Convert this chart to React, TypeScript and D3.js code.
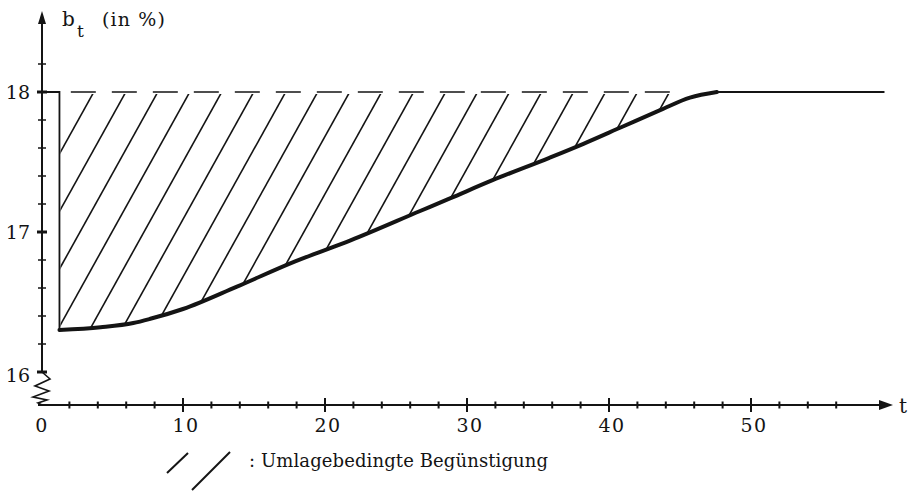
import React from "react";
import * as d3 from "d3";

// Data
const curveT = [1.3, 4.2, 6.5, 7.7, 10, 13.8, 17.9, 21.8, 26.7, 28.8, 31.8, 35.8, 38.2, 40.9, 43.6, 45.7, 47.6];
const curveB = [16.30, 16.32, 16.35, 16.38, 16.45, 16.61, 16.79, 16.94, 17.15, 17.24, 17.37, 17.53, 17.63, 17.75, 17.87, 17.96, 18.0];
const flatT = [47.6, 59.4];
const flatB = [18.0, 18.0];
const dropT = 1.3;
const refLevel = 18;
const dashStartT = 2.1;
const dashEndT = 44.4;
const xMajorTicks = [0, 10, 20, 30, 40, 50];
const xMinorTicks = [2, 4, 6, 8, 12, 14, 16, 18, 22, 24, 26, 28, 32, 34, 36, 38, 42, 44, 46, 48, 52, 54, 56];
const yMajorTicks = [16, 17, 18];
const yMinorTicks = [16.2, 16.4, 16.6, 16.8, 17.2, 17.4, 17.6, 17.8, 18.2];
const yAxisLabel = "b";
const yAxisSub = "t";
const yAxisUnit = "(in %)";
const xAxisLabel = "t";
const legendText = ": Umlagebedingte Begünstigung";

const W = 918;
const H = 491;
const FONT = "'DejaVu Serif', 'Liberation Serif', serif";
const INK = "#141414";

export default function App() {
  const x = d3.scaleLinear().domain([0, 60]).range([41, 893]);
  const y = d3.scaleLinear().domain([16, 18]).range([372, 92]);
  const axisY = 405;
  const axisX = 42;

  const pts: [number, number][] = curveT.map((t, i) => [t, curveB[i]]);
  const line = d3
    .line<[number, number]>()
    .x((d) => x(d[0]))
    .y((d) => y(d[1]))
    .curve(d3.curveMonotoneX);
  const curvePath = line(pts) || "";
  const flatPath = line(flatT.map((t, i) => [t, flatB[i]] as [number, number])) || "";

  const area = d3
    .area<[number, number]>()
    .x((d) => x(d[0]))
    .y0(() => y(refLevel) + 2)
    .y1((d) => y(d[1]))
    .curve(d3.curveMonotoneX);
  const clipPath = area(pts) || "";

  // hatching (decorative pattern)
  const slope = 1.8;
  const hatchStart = x(dashStartT) + 23;
  const hatchEnd = x(dashEndT) - 2;
  const nH = 18;
  const hatch = d3.range(nH + 1).map((i) => hatchStart + ((hatchEnd - hatchStart) * i) / nH);
  const yTop = y(refLevel);
  const yBot = y(16.2);

  // zigzag (axis break)
  const zig: [number, number][] = [
    [axisX, y(16)],
    [axisX + 8, y(16) + 7],
    [axisX - 7, y(16) + 14],
    [axisX + 7, y(16) + 19],
    [axisX - 9, y(16) + 25],
    [axisX + 5, y(16) + 28],
    [axisX - 4, y(16) + 31],
    [axisX, axisY],
  ];

  return (
    <svg
      width={W}
      height={H}
      viewBox={`0 0 ${W} ${H}`}
      style={{ position: "absolute", left: 0, top: 0, background: "#fff" }}
    >
      <defs>
        <clipPath id="hatchClip">
          <path d={clipPath} />
        </clipPath>
        <clipPath id="hatchX">
          <rect x={x(dropT) + 1} y={0} width={x(dashEndT) - x(dropT)} height={H} />
        </clipPath>
      </defs>

      {/* hatching */}
      <g clipPath="url(#hatchX)">
        <g clipPath="url(#hatchClip)">
          {hatch.map((xt, i) => (
            <line
              key={i}
              x1={xt}
              y1={yTop}
              x2={xt - (yBot - yTop) / slope}
              y2={yBot}
              stroke={INK}
              strokeWidth={1.6}
            />
          ))}
        </g>
      </g>

      {/* dashed reference line at 18 */}
      <line
        x1={x(dashStartT)}
        x2={x(dashEndT)}
        y1={y(refLevel)}
        y2={y(refLevel)}
        stroke={INK}
        strokeWidth={1.5}
        strokeDasharray="25 16"
      />

      {/* drop line */}
      <path
        d={`M${axisX},${y(refLevel)}H${x(dropT)}V${y(curveB[0])}`}
        fill="none"
        stroke={INK}
        strokeWidth={1.8}
      />

      {/* curve */}
      <path d={curvePath} fill="none" stroke={INK} strokeWidth={4} strokeLinecap="round" />
      <path d={flatPath} fill="none" stroke={INK} strokeWidth={2.2} />

      {/* y axis */}
      <line x1={axisX} x2={axisX} y1={y(16)} y2={22} stroke={INK} strokeWidth={2} />
      <path d={`M${axisX},11L${axisX - 4},24L${axisX + 4},24Z`} fill={INK} />
      <path d={d3.line()(zig) || ""} fill="none" stroke={INK} strokeWidth={1.6} />
      {yMinorTicks.map((v) => (
        <line key={v} x1={axisX - 4} x2={axisX + 4} y1={y(v)} y2={y(v)} stroke={INK} strokeWidth={1.5} />
      ))}
      {yMajorTicks.map((v) => (
        <line key={v} x1={axisX - 5} x2={axisX + 5} y1={y(v)} y2={y(v)} stroke={INK} strokeWidth={3} />
      ))}
      {yMajorTicks.map((v) => (
        <text
          key={v}
          x={30}
          y={y(v) + (v === 16 ? 10 : 7)}
          textAnchor="end"
          fontFamily={FONT}
          fontSize={19}
          fill={INK}
        >
          {v}
        </text>
      ))}
      <text x={62} y={26} fontFamily={FONT} fontSize={20} fill={INK}>
        {yAxisLabel}
      </text>
      <text x={77} y={37} fontFamily={FONT} fontSize={17} fill={INK}>
        {yAxisSub}
      </text>
      <text x={102} y={26} fontFamily={FONT} fontSize={19} fill={INK} textLength={63} lengthAdjust="spacing">
        {yAxisUnit}
      </text>

      {/* x axis */}
      <line x1={axisX - 4} x2={880} y1={axisY} y2={axisY} stroke={INK} strokeWidth={2} />
      <path d={`M893,${axisY}L879,${axisY - 5}L879,${axisY + 5}Z`} fill={INK} />
      {xMinorTicks.map((v) => (
        <line key={v} x1={x(v)} x2={x(v)} y1={axisY - 3.5} y2={axisY + 3.5} stroke={INK} strokeWidth={2} />
      ))}
      {xMajorTicks
        .filter((v) => v > 0)
        .map((v) => (
          <line key={v} x1={x(v)} x2={x(v)} y1={axisY - 7} y2={axisY + 7} stroke={INK} strokeWidth={2} />
        ))}
      {xMajorTicks.map((v) => (
        <text
          key={v}
          x={x(v) + (v === 0 ? 1 : 3)}
          y={432}
          textAnchor="middle"
          fontFamily={FONT}
          fontSize={19}
          fill={INK}
          letterSpacing={1.5}
        >
          {v}
        </text>
      ))}
      <text x={899} y={413} fontFamily={FONT} fontSize={20} fill={INK}>
        {xAxisLabel}
      </text>

      {/* legend */}
      <line x1={167} y1={473} x2={188} y2={453} stroke={INK} strokeWidth={2} />
      <line x1={192} y1={490} x2={230} y2={452} stroke={INK} strokeWidth={2} />
      <text x={249} y={467} fontFamily={FONT} fontSize={18} fill={INK} textLength={299} lengthAdjust="spacing">
        {legendText}
      </text>
    </svg>
  );
}
